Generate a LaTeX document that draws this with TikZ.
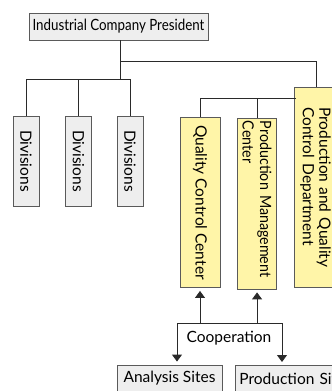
\documentclass[tikz,border=0pt]{standalone}
\usepackage{fontspec}
\setmainfont{Lato}
\newfontfamily\condfont{Lato}[FakeStretch=0.86]
\newfontfamily\narrowfont{Lato}[FakeStretch=0.92]
\usetikzlibrary{arrows.meta}
\definecolor{boxgray}{HTML}{EEEEEE}
\definecolor{boxyellow}{HTML}{FFF5A8}
\definecolor{edgegray}{HTML}{5A5A5A}
\definecolor{linecol}{HTML}{2A2A2A}
\hyphenpenalty=10000
\exhyphenpenalty=10000
\begin{document}
\begin{tikzpicture}[x=1pt,y=-1pt,
  graybox/.style={draw=edgegray,fill=boxgray,line width=0.9pt,inner sep=0pt,rectangle},
  yelbox/.style={draw=edgegray,fill=boxyellow,line width=0.9pt,inner sep=0pt,rectangle},
  conn/.style={draw=linecol,line width=0.9pt},
  arr/.style={conn,-{Triangle[width=10pt,length=7pt]},shorten >=3pt},
  vtext/.style={rotate=-90},
  txt/.style={font=\fontsize{15.5}{18}\selectfont}]
\useasboundingbox (0,0) rectangle (332,391);
\fill[white] (0,0) rectangle (332,391);
% president
\node[graybox,minimum width=179pt,minimum height=27pt] (pres) at (118.5,26.5) {\condfont\fontsize{15.5}{18}\selectfont Industrial Company President};
% divisions
\foreach \i/\x in {1/26,2/78.5,3/130}{
  \node[graybox,minimum width=90pt,minimum height=26pt,vtext,txt] (div\i) at (\x,161) {Divisions};
}
% yellow boxes
\node[yelbox,minimum width=170pt,minimum height=40pt,vtext,txt] (qcc) at (200,202.5) {Quality Control Center};
\node[yelbox,minimum height=39pt,vtext,align=left,anchor=north west,text width=165pt,inner xsep=3pt,font={\narrowfont\fontsize{15.5}{17.5}\selectfont}] (pmc) at (277,117.5) {Production Management\\Center};
\node[yelbox,minimum height=42pt,minimum width=200pt,vtext,align=left,anchor=north west,text width=160pt,inner xsep=20pt,font={\fontsize{15.5}{16.5}\selectfont}] (pqcd) at (337,87) {Production and Quality\\Control Department};
% junctions
\coordinate (j0) at (120,61);
\coordinate (jd) at (120,79);
\coordinate (jy) at (316,61);
\coordinate (jq) at (296,98);
% connectors
\draw[conn] ([xshift=1.5pt]pres.south) -- (jd);
\draw[conn] (j0) -- (jy) -- (jy |- pqcd.north west);
\draw[conn] (div1.west) -- (div1.west |- jd) -- (div3.west |- jd) -- (div3.west);
\draw[conn] (div2.west) -- (div2.west |- jd);
\draw[conn] (jq) -- (qcc.west |- jq) -- (qcc.west);
\draw[conn] (pmc.west |- pmc.north west) -- (pmc.west |- jq);
% cooperation
\node[inner sep=0pt,txt] (coop) at (229,338) {Cooperation};
\node[graybox,minimum width=105pt,minimum height=26pt,txt] (ana) at (169.5,378) {Analysis Sites};
\node[graybox,minimum height=26pt,anchor=north west,txt,text width=125pt,inner xsep=4pt,align=left] (prod) at (235,365) {Production Sites};
\coordinate (cl) at (177,323);
\coordinate (cr) at (282,323);
\draw[conn] (cl) -- (cr);
\draw[arr] (qcc.east |- cl) -- (qcc.east);
\draw[arr] (pmc.east |- cl) -- (pmc.east);
\draw[arr] (cl) -- (cl |- ana.north);
\draw[arr] (cr) -- (cr |- prod.north);
\end{tikzpicture}
\end{document}
